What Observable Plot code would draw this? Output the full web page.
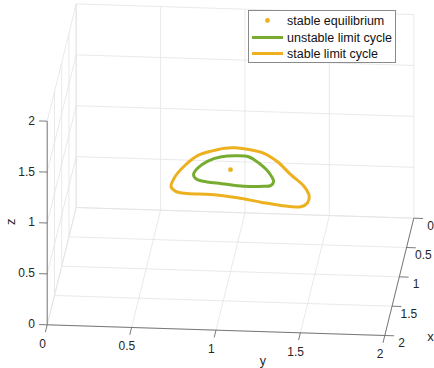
<!DOCTYPE html>
<html><head><meta charset="utf-8">
<script src="https://cdn.jsdelivr.net/npm/d3@7"></script>
<script src="https://cdn.jsdelivr.net/npm/@observablehq/plot@0.6"></script>
<style>
html,body{margin:0;padding:0;background:#fff;}
#wrap{position:relative;width:434px;height:368px;overflow:hidden;}
#wrap svg{display:block;}
.legend{position:absolute;left:248px;top:10px;width:148px;height:53px;box-sizing:border-box;border:1px solid #8a8a8a;background:#fff;}
.legend text{font-family:"Liberation Sans",Arial,sans-serif;font-size:12.5px;fill:#111;}
</style></head><body><div id="wrap"></div>
<script>
// ---- data ----
const ticks = [0, 0.5, 1, 1.5, 2];
const tickLabels = ["0", "0.5", "1", "1.5", "2"];
const seriesNames = ["stable equilibrium", "unstable limit cycle", "stable limit cycle"];
const seriesColors = ["#EDB120", "#77AC30", "#EDB120"];
const equilibrium = {x: 1, y: 1, z: 1};
// unstable limit cycle (green)
const unstableX = [1.105,0.993,0.870,0.787,0.762,0.772,0.867,0.981,1.095,1.178,1.247,1.263,1.274,1.241,1.220,1.180];
const unstableY = [0.790,0.804,0.852,0.928,1.008,1.087,1.154,1.212,1.252,1.271,1.259,1.221,1.102,0.968,0.880,0.815];
const unstableZ = [1,1,1,1,1,1,1,1,1,1,1,1,1,1,1,1];
// stable limit cycle (orange)
const stableX = [0.628,0.653,0.700,0.840,1.051,1.241,1.406,1.518,1.589,1.578,1.533,1.472,1.431,1.427,1.395,1.319,1.165,0.945,0.775,0.691,0.640];
const stableY = [0.997,1.088,1.169,1.265,1.361,1.456,1.501,1.501,1.468,1.348,1.226,1.082,0.920,0.781,0.709,0.675,0.682,0.728,0.789,0.866,0.935];
const stableZ = [1,1,1,1,1,1,1,1,1,1,1,1,1,1,1,1,1,1,1,1,1];

// ---- orthographic view (MATLAB-like 3-D axes) ----
const V = {ox: 75.7, oy: 207, exx: -14.5, exy: 58.65, eyx: 168.8, eyy: 5.35, ezy: -101.8};
const PX = (p) => V.ox + p[0] * V.exx + p[1] * V.eyx;
const PY = (p) => V.oy + p[0] * V.exy + p[1] * V.eyy + p[2] * V.ezy;

const lo = ticks[0], hi = ticks[ticks.length - 1];
const grid = [];
for (const t of ticks) {
  grid.push([[t, lo, lo], [t, hi, lo]], [[lo, t, lo], [hi, t, lo]]);   // floor
  grid.push([[lo, t, lo], [lo, t, hi]], [[lo, lo, t], [lo, hi, t]]);   // back wall
  grid.push([[t, lo, lo], [t, lo, hi]], [[lo, lo, t], [hi, lo, t]]);   // side wall
}
const axes = [
  [[lo, hi, lo], [hi, hi, lo]],
  [[hi, lo, lo], [hi, hi, lo]],
  [[hi, lo, lo], [hi, lo, hi]]
];
const tickSegs = [];
ticks.forEach((t) => {
  tickSegs.push([[t, hi, lo], [t, hi + 0.055, lo]]);
  tickSegs.push([[hi, t, lo], [hi + 0.125, t, lo]]);
  tickSegs.push([[hi, lo, t], [hi, lo - 0.048, t]]);
});
const xLab = ticks.map((t, i) => ({p: [t + 0.12, hi + 0.11, lo], s: tickLabels[i]}));
const yLab = ticks.map((t, i) => ({p: [hi + 0.325, t, lo], s: tickLabels[i]}));
const zLab = ticks.map((t, i) => ({p: [hi, lo - 0.072, t], s: tickLabels[i]}));

const unstable = unstableX.map((x, i) => [x, unstableY[i], unstableZ[i]]);
const stable = stableX.map((x, i) => [x, stableY[i], stableZ[i]]);

const seg = (color, w) => ({
  x1: (d) => PX(d[0]), y1: (d) => PY(d[0]), x2: (d) => PX(d[1]), y2: (d) => PY(d[1]),
  stroke: color, strokeWidth: w
});
const txtColor = "#262626";
const at = {x: (d) => PX(d.p), y: (d) => PY(d.p), text: "s", fill: txtColor, lineAnchor: "middle"};

const chart = Plot.plot({
  width: 434, height: 368, margin: 0,
  x: {domain: [0, 434], range: [0, 434], axis: null},
  y: {domain: [0, 368], range: [0, 368], axis: null},
  style: {fontFamily: "'Liberation Sans', Arial, sans-serif", fontSize: "12px", background: "#fff"},
  marks: [
    Plot.link(grid, seg("#e3e3e3", 0.8)),
    Plot.line(stable, {x: PX, y: PY, curve: "catmull-rom-closed", stroke: seriesColors[2], strokeWidth: 3}),
    Plot.line(unstable, {x: PX, y: PY, curve: "catmull-rom-closed", stroke: seriesColors[1], strokeWidth: 3}),
    Plot.dot([[equilibrium.x, equilibrium.y, equilibrium.z]], {x: PX, y: PY, r: 2.4, fill: seriesColors[0], stroke: "none"}),
    Plot.link(axes, seg("#6b6b6b", 0.9)),
    Plot.link(tickSegs, seg("#6b6b6b", 0.9)),
    Plot.text(xLab, {...at, textAnchor: "middle", fontSize: 12}),
    Plot.text(yLab, {...at, textAnchor: "middle", fontSize: 12}),
    Plot.text(zLab, {...at, textAnchor: "end", fontSize: 12}),
    Plot.text([{p: [hi, hi + 0.27, lo], s: "x"}], {...at, textAnchor: "middle", fontSize: 13}),
    Plot.text([{p: [hi + 0.49, 1.32, lo], s: "y"}], {...at, textAnchor: "middle", fontSize: 12.5}),
    Plot.text([{p: [hi, lo - 0.215, 1], s: "z"}], {...at, textAnchor: "middle", rotate: -90, fontSize: 13})
  ]
});
const wrap = document.getElementById("wrap");
wrap.appendChild(chart);

// legend
const ns = "http://www.w3.org/2000/svg";
const leg = document.createElement("div");
leg.className = "legend";
const ls = document.createElementNS(ns, "svg");
ls.setAttribute("width", 146); ls.setAttribute("height", 51);
const rowsY = [9.5, 26.5, 42.5];
seriesNames.forEach((name, i) => {
  if (i === 0) {
    const c = document.createElementNS(ns, "circle");
    c.setAttribute("cx", 18.5); c.setAttribute("cy", rowsY[i]); c.setAttribute("r", 2.4);
    c.setAttribute("fill", seriesColors[i]);
    ls.appendChild(c);
  } else {
    const l = document.createElementNS(ns, "line");
    l.setAttribute("x1", 3); l.setAttribute("x2", 34);
    l.setAttribute("y1", rowsY[i]); l.setAttribute("y2", rowsY[i]);
    l.setAttribute("stroke", seriesColors[i]); l.setAttribute("stroke-width", 3);
    ls.appendChild(l);
  }
  const t = document.createElementNS(ns, "text");
  t.setAttribute("x", 38); t.setAttribute("y", rowsY[i]); t.setAttribute("dy", "0.36em");
  t.textContent = name;
  ls.appendChild(t);
});
leg.appendChild(ls);
wrap.appendChild(leg);
</script></body></html>
